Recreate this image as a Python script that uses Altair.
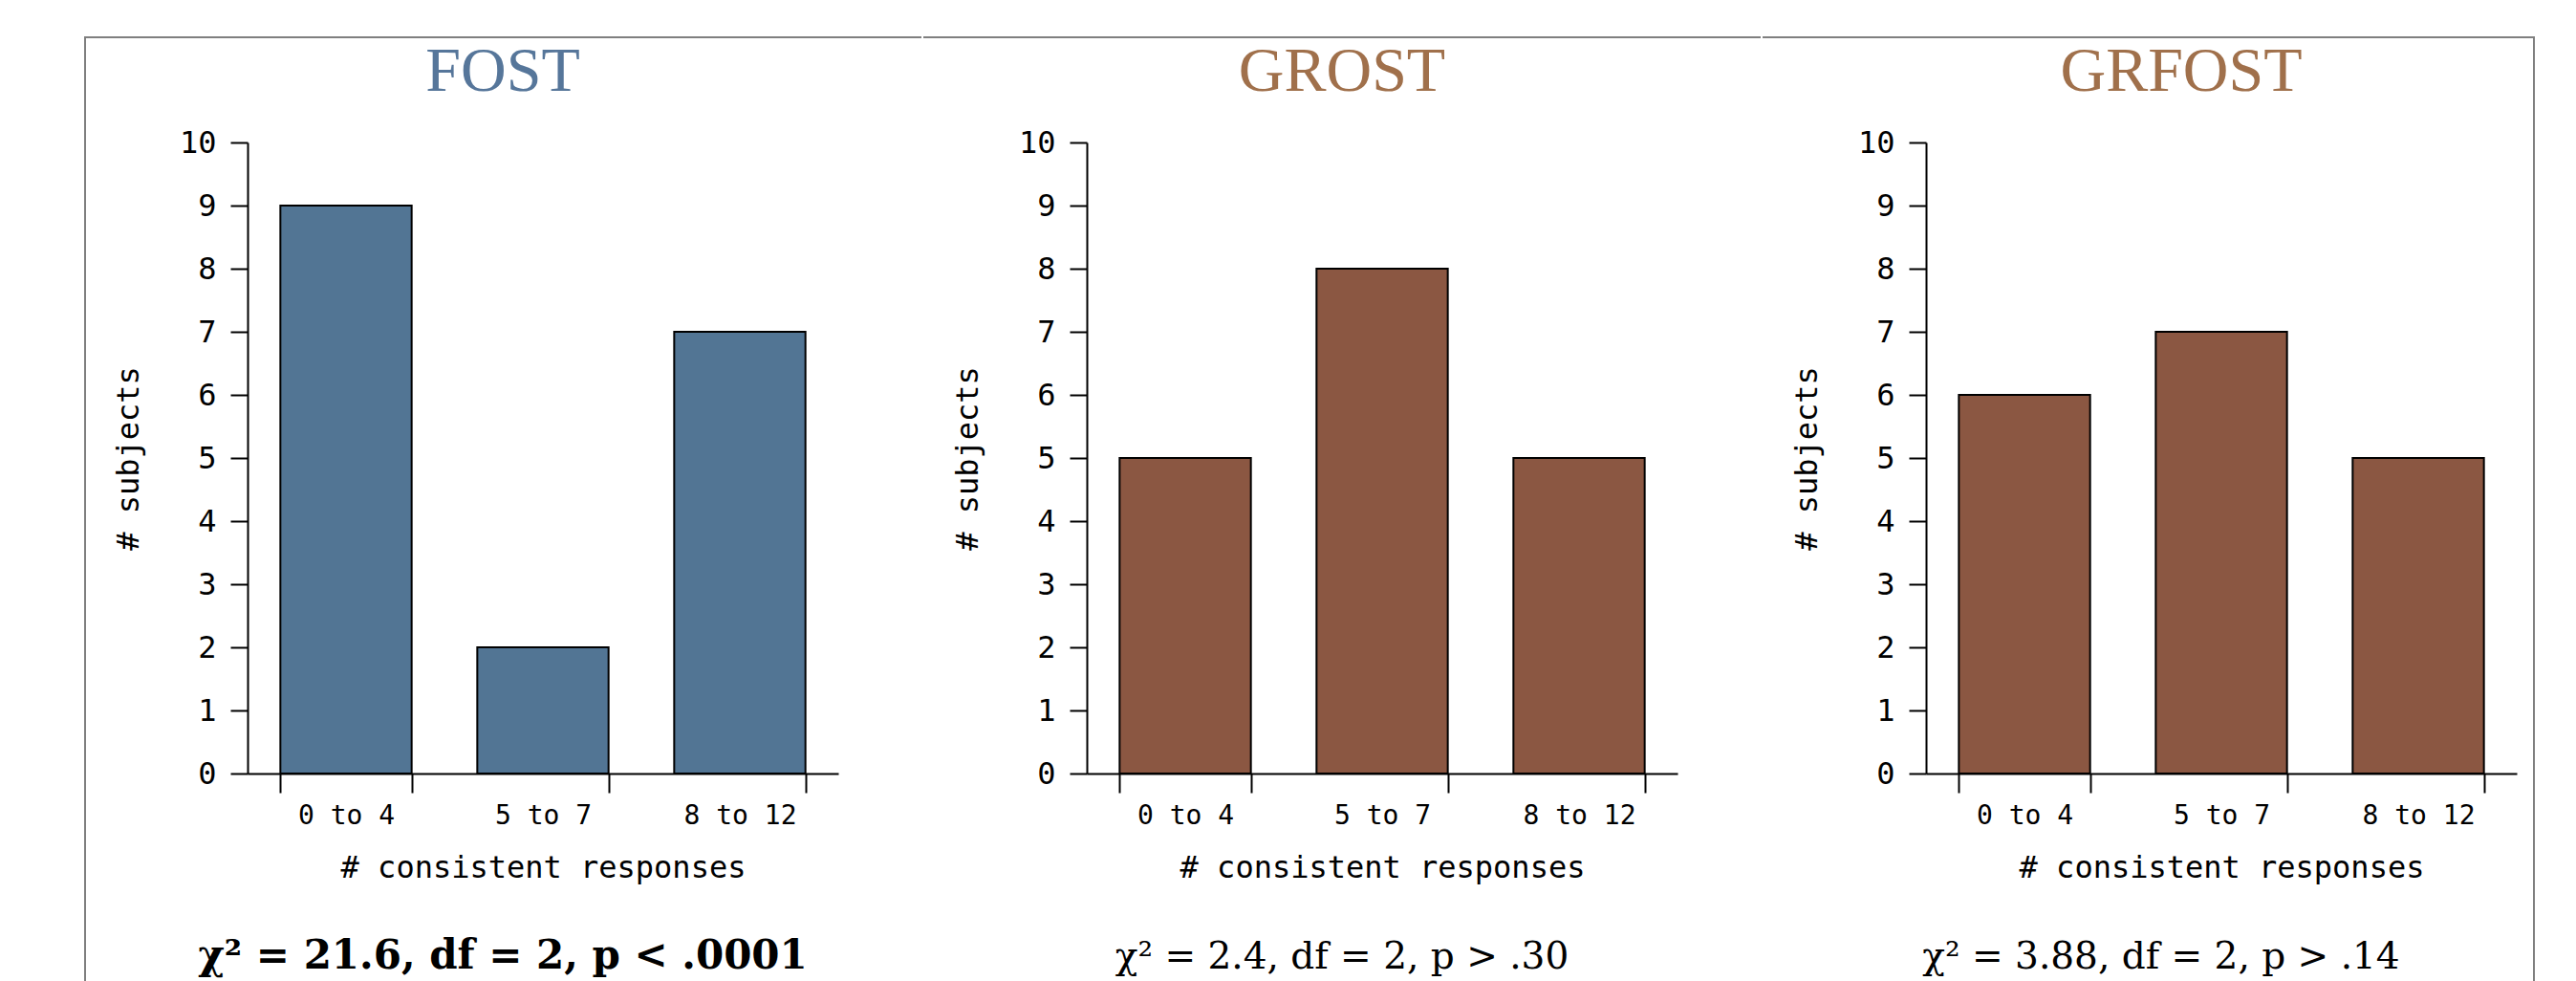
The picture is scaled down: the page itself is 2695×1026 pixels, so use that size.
import altair as alt
import pandas as pd

# ---- data ----
panels = ["FOST", "GROST", "GRFOST"]
categories = ["0 to 4", "5 to 7", "8 to 12"]
fost = [9, 2, 7]
grost = [5, 8, 5]
grfost = [6, 7, 5]
stats = ["χ² = 21.6,  df = 2,  p < .0001",
         "χ² = 2.4,  df = 2,  p > .30",
         "χ² = 3.88,  df = 2,  p > .14"]
y_ticks = list(range(0, 11))

# ---- styling ----
BAR_COLORS = ["#527594", "#8b5742", "#8b5742"]
TITLE_COLORS = ["#56769a", "#a0704b", "#a0704b"]
MONO = "DejaVu Sans Mono"
SERIF = "Liberation Serif"
W, H = 618, 660
CELL = 876
FRAME_LEFT = -171
FRAME_TOP = -110
FRAME_BOTTOM = 878
FRAME_COLOR = "#7f7f7f"


def panel(i, values):
    df = pd.DataFrame({"cat": categories, "n": values})
    bars = alt.Chart(df).mark_bar(
        fill=BAR_COLORS[i], stroke="black", strokeWidth=2
    ).encode(
        x=alt.X(
            "cat:N", sort=categories,
            scale=alt.Scale(paddingInner=1 / 3, paddingOuter=1 / 6),
            axis=alt.Axis(
                title="# consistent responses", titleFont=MONO, titleFontSize=32,
                titleFontWeight="normal", titleColor="black",
                titleY=108, titleBaseline="alphabetic",
                labelAngle=0, labelFont=MONO, labelFontSize=28, labelColor="black",
                labelPadding=10, tickSize=20, tickWidth=2, tickColor="black",
                domainWidth=2, domainColor="black", tickBand="extent", grid=False,
            ),
        ),
        y=alt.Y(
            "n:Q",
            scale=alt.Scale(domain=[0, 10], nice=False),
            axis=alt.Axis(
                values=y_ticks, title="# subjects", titleFont=MONO, titleFontSize=32,
                titleFontWeight="normal", titleColor="black",
                titleAngle=270, titleX=-115, titleBaseline="alphabetic",
                labelFont=MONO, labelFontSize=32, labelColor="black",
                labelPadding=15, tickSize=18, tickWidth=2, tickColor="black",
                domainWidth=2, domainColor="black", grid=False,
            ),
        ),
    )

    right_end = 637 if i == 2 else CELL + FRAME_LEFT
    one = alt.Data(values=[{"t": panels[i], "s": stats[i]}])

    # frame pieces drawn as thin filled rects (no stroke, so bounds are exact)
    top_line = alt.Chart(one).mark_rect(color=FRAME_COLOR).encode(
        x=alt.value(FRAME_LEFT), x2=alt.value(right_end),
        y=alt.value(FRAME_TOP - 1), y2=alt.value(FRAME_TOP + 1)
    )
    title = alt.Chart(one).mark_text(
        font=SERIF, fontSize=66, color=TITLE_COLORS[i], align="center",
        baseline="alphabetic"
    ).encode(x=alt.value(FRAME_LEFT + CELL / 2), y=alt.value(-54), text="t:N")

    stat_x = [267, 267, 246][i]
    stat = alt.Chart(one).mark_text(
        font="DejaVu Serif", fontSize=42 if i == 0 else 39, color="black",
        align="center", baseline="alphabetic",
        fontWeight="bold" if i == 0 else "normal"
    ).encode(x=alt.value(stat_x), y=alt.value(864), text="s:N")

    layers = [top_line, bars, title, stat]
    if i == 0:
        layers.append(alt.Chart(one).mark_rect(color=FRAME_COLOR).encode(
            x=alt.value(FRAME_LEFT), x2=alt.value(FRAME_LEFT + 2),
            y=alt.value(FRAME_TOP - 1), y2=alt.value(FRAME_BOTTOM)))
    if i == 2:
        layers.append(alt.Chart(one).mark_rect(color=FRAME_COLOR).encode(
            x=alt.value(right_end - 2), x2=alt.value(right_end),
            y=alt.value(FRAME_TOP - 1), y2=alt.value(FRAME_BOTTOM)))
    return alt.layer(*layers).properties(width=W, height=H)


chart = alt.hconcat(
    panel(0, fost), panel(1, grost), panel(2, grfost), spacing=0
).properties(
    padding={"left": 79, "top": 29, "right": 0, "bottom": 0},
    background="white",
).configure_view(stroke="transparent")

chart.save("out.html", embed_options={"renderer": "svg", "actions": False})
